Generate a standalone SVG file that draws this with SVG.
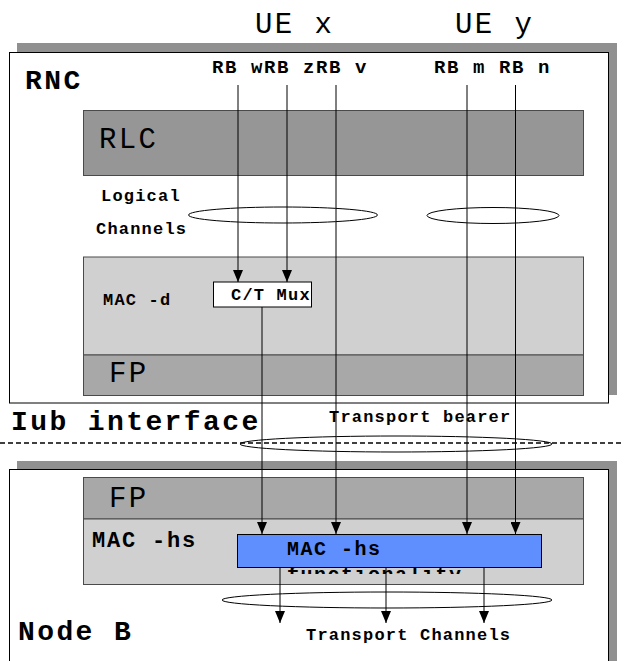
<svg xmlns="http://www.w3.org/2000/svg" width="624" height="661" viewBox="0 0 624 661">
<style>
.shadow{fill:#909090}
.frame{fill:#ffffff;stroke:#000;stroke-width:1}
.rlc{fill:#969696;stroke:#4a4a4a;stroke-width:1}
.fp{fill:#a8a8a8;stroke:#4a4a4a;stroke-width:1}
.mac{fill:#d0d0d0;stroke:#4a4a4a;stroke-width:1}
.ell{fill:none;stroke:#000;stroke-width:1}
.big{font-family:"Liberation Mono",monospace;font-size:29px;letter-spacing:2.4px;fill:#000}
.bigb{font-family:"Liberation Mono",monospace;font-weight:bold;font-size:28px;letter-spacing:2.4px;fill:#000}
.rb{font-family:"Liberation Mono",monospace;font-weight:bold;font-size:19px;letter-spacing:1.6px;fill:#000}
.sm{font-family:"Liberation Mono",monospace;font-weight:bold;font-size:17px;letter-spacing:1.2px;fill:#000}
.line{stroke:#000;stroke-width:1;fill:none}
.arr{stroke:#000;stroke-width:1;fill:none;marker-end:url(#ah)}
</style>
<defs>
<marker id="ah" viewBox="0 0 12 10" refX="12" refY="5" markerWidth="12" markerHeight="10" markerUnits="userSpaceOnUse" orient="auto" preserveAspectRatio="none">
<path d="M0,0 L12,5 L0,10 z" fill="#000"/>
</marker>
<clipPath id="funcClip"><rect x="237" y="568" width="305" height="6"/></clipPath>
</defs>

<g id="ue-labels">
<text class="big" x="255" y="33">UE x</text>
<text class="big" x="455" y="33">UE y</text>
</g>

<g id="rnc">
<rect class="shadow" x="17" y="43" width="600" height="352"/>
<rect class="frame" x="9.5" y="52.5" width="599" height="350.5"/>
<text class="bigb" x="25" y="89">RNC</text>
<text class="rb" x="212" y="73">RB wRB zRB v</text>
<text class="rb" x="434" y="73">RB m RB n</text>
</g>

<g id="rlc">
<rect class="rlc" x="83.5" y="110.5" width="500" height="65"/>
<text class="big" x="99" y="148">RLC</text>
</g>

<g id="logical-channels">
<text class="sm" x="101" y="201">Logical</text>
<text class="sm" x="96" y="234">Channels</text>
<ellipse class="ell" cx="283" cy="215" rx="94.5" ry="8"/>
<ellipse class="ell" cx="493" cy="215.5" rx="66" ry="8"/>
</g>

<g id="mac-d">
<rect class="mac" x="83.5" y="257" width="500" height="98"/>
<text class="sm" x="103" y="305">MAC -d</text>
</g>

<g id="ct-mux">
<rect x="213.5" y="282" width="98" height="25" fill="#fff" stroke="#000" stroke-width="1"/>
<text class="sm" x="231" y="300">C/T Mux</text>
</g>

<g id="fp-rnc">
<rect class="fp" x="83.5" y="355" width="500" height="40.5"/>
<text class="big" x="109" y="382">FP</text>
</g>

<g id="iub">
<text class="bigb" x="11" y="430">Iub interface</text>
<text class="sm" x="329" y="422">Transport bearer</text>
<ellipse class="ell" cx="396" cy="444" rx="156" ry="8"/>
<line x1="0" y1="443" x2="624" y2="443" stroke="#000" stroke-width="1.5" stroke-dasharray="5,3"/>
</g>

<g id="node-b">
<rect class="shadow" x="17" y="461" width="600" height="210"/>
<rect class="frame" x="9.5" y="469.5" width="599" height="200"/>
<text class="bigb" x="18" y="640">Node B</text>
</g>

<g id="fp-nodeb">
<rect class="fp" x="83.5" y="477.5" width="500" height="41.5"/>
<text class="big" x="109" y="507">FP</text>
</g>

<g id="mac-hs">
<rect class="mac" x="83.5" y="519" width="500" height="65.5"/>
<text x="92" y="547" font-family="Liberation Mono, monospace" font-weight="bold" font-size="22" letter-spacing="1.8">MAC -hs</text>
</g>

<g id="mac-hs-functionality">
<rect x="237.5" y="534.5" width="304" height="33" fill="#5f8fff" stroke="#000" stroke-width="1"/>
<text x="287" y="555" font-family="Liberation Mono, monospace" font-weight="bold" font-size="20" letter-spacing="1.5">MAC -hs</text>
<text x="287" y="581" font-family="Liberation Mono, monospace" font-weight="bold" font-size="20" letter-spacing="1.5" clip-path="url(#funcClip)">functionality</text>
</g>

<g id="transport-channels">
<ellipse class="ell" cx="387" cy="600" rx="165" ry="8"/>
<text class="sm" x="306" y="640">Transport Channels</text>
</g>

<g id="connectors">
<line class="arr" x1="238" y1="85" x2="238" y2="282"/>
<line class="arr" x1="287" y1="85" x2="287" y2="282"/>
<line class="arr" x1="336" y1="85" x2="336" y2="534"/>
<line class="arr" x1="467" y1="85" x2="467" y2="534"/>
<line class="arr" x1="515.5" y1="85" x2="515.5" y2="534"/>
<line class="arr" x1="262" y1="307" x2="262" y2="534"/>
<line class="arr" x1="280" y1="567" x2="280" y2="623"/>
<line class="arr" x1="386" y1="567" x2="386" y2="623"/>
<line class="arr" x1="484" y1="567" x2="484" y2="623"/>
</g>
</svg>
